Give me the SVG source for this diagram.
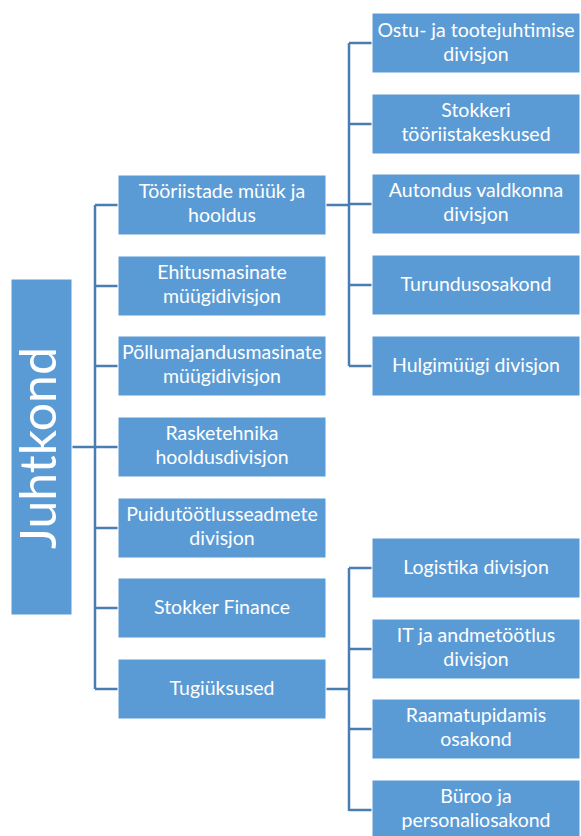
<svg xmlns="http://www.w3.org/2000/svg" width="581" height="836" viewBox="0 0 581 836">
  <style>
    .box { fill: #5b9bd5; stroke: #ffffff; stroke-width: 1; }
    .lbl { fill: #ffffff; font-family: Lato, "Open Sans", "Liberation Sans", sans-serif; font-size: 19.5px; text-anchor: middle; }
    .root { fill: #ffffff; font-family: Lato, "Open Sans", "Liberation Sans", sans-serif; font-size: 50px; text-anchor: middle; }
    .wire { fill: none; stroke: #4a7eb1; stroke-width: 2.5; }
  </style>
  <rect width="581" height="836" fill="#ffffff"/>

  <!-- connectors -->
  <g id="connectors">
    <path class="wire" d="M72,447 H95 M95,205 V689 M95,205 H118 M95,286 H118 M95,366 H118 M95,447 H118 M95,528 H118 M95,608 H118 M95,689 H118"/>
    <path class="wire" d="M326,205 H349 M349,43 V366 M349,43 H372 M349,124 H372 M349,204 H372 M349,285 H372 M349,366 H372"/>
    <path class="wire" d="M326,689 H349 M349,568 V811 M349,568 H372 M349,649 H372 M349,729 H372 M349,810 H372"/>
  </g>

  <!-- root -->
  <g id="juhtkond">
    <rect class="box" x="11" y="279" width="61" height="336"/>
    <text class="root" transform="translate(56,448) rotate(-90)">Juhtkond</text>
  </g>

  <!-- second level -->
  <g id="toorist">
    <rect class="box" x="118" y="175" width="208" height="60"/>
    <text class="lbl" x="222" y="198">Tööriistade müük ja</text>
    <text class="lbl" x="222" y="222">hooldus</text>
  </g>
  <g id="ehitus">
    <rect class="box" x="118" y="256" width="208" height="60"/>
    <text class="lbl" x="222" y="279">Ehitusmasinate</text>
    <text class="lbl" x="222" y="303">müügidivisjon</text>
  </g>
  <g id="pollu">
    <rect class="box" x="118" y="336" width="208" height="60"/>
    <text class="lbl" x="222" y="359">Põllumajandusmasinate</text>
    <text class="lbl" x="222" y="383">müügidivisjon</text>
  </g>
  <g id="raske">
    <rect class="box" x="118" y="417" width="208" height="60"/>
    <text class="lbl" x="222" y="440">Rasketehnika</text>
    <text class="lbl" x="222" y="464">hooldusdivisjon</text>
  </g>
  <g id="puidu">
    <rect class="box" x="118" y="498" width="208" height="60"/>
    <text class="lbl" x="222" y="521">Puidutöötlusseadmete</text>
    <text class="lbl" x="222" y="545">divisjon</text>
  </g>
  <g id="finance">
    <rect class="box" x="118" y="578" width="208" height="60"/>
    <text class="lbl" x="222" y="614">Stokker Finance</text>
  </g>
  <g id="tugi">
    <rect class="box" x="118" y="659" width="208" height="60"/>
    <text class="lbl" x="222" y="695">Tugiüksused</text>
  </g>

  <!-- third level under Tööriistade müük ja hooldus -->
  <g id="ostu">
    <rect class="box" x="372" y="13" width="208" height="60"/>
    <text class="lbl" x="476" y="37">Ostu- ja tootejuhtimise</text>
    <text class="lbl" x="476" y="61">divisjon</text>
  </g>
  <g id="stokkeri">
    <rect class="box" x="372" y="94" width="208" height="60"/>
    <text class="lbl" x="476" y="117">Stokkeri</text>
    <text class="lbl" x="476" y="141">tööriistakeskused</text>
  </g>
  <g id="autondus">
    <rect class="box" x="372" y="174" width="208" height="60"/>
    <text class="lbl" x="476" y="197">Autondus valdkonna</text>
    <text class="lbl" x="476" y="221">divisjon</text>
  </g>
  <g id="turundus">
    <rect class="box" x="372" y="255" width="208" height="60"/>
    <text class="lbl" x="476" y="291">Turundusosakond</text>
  </g>
  <g id="hulgi">
    <rect class="box" x="372" y="336" width="208" height="60"/>
    <text class="lbl" x="476" y="372">Hulgimüügi divisjon</text>
  </g>

  <!-- third level under Tugiüksused -->
  <g id="logistika">
    <rect class="box" x="372" y="538" width="208" height="60"/>
    <text class="lbl" x="476" y="574">Logistika divisjon</text>
  </g>
  <g id="it">
    <rect class="box" x="372" y="619" width="208" height="60"/>
    <text class="lbl" x="476" y="642">IT ja andmetöötlus</text>
    <text class="lbl" x="476" y="666">divisjon</text>
  </g>
  <g id="raamatu">
    <rect class="box" x="372" y="699" width="208" height="60"/>
    <text class="lbl" x="476" y="722">Raamatupidamis</text>
    <text class="lbl" x="476" y="746">osakond</text>
  </g>
  <g id="buroo">
    <rect class="box" x="372" y="780" width="208" height="60"/>
    <text class="lbl" x="476" y="803">Büroo ja</text>
    <text class="lbl" x="476" y="827">personaliosakond</text>
  </g>
</svg>
